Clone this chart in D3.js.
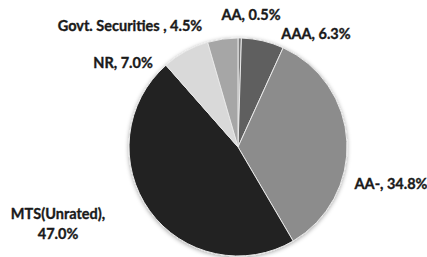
<!DOCTYPE html>
<html>
<head>
<meta charset="utf-8">
<script src="https://cdn.jsdelivr.net/npm/d3@7"></script>
<style>
  html, body { margin: 0; padding: 0; background: #ffffff; }
  svg { display: block; }
  text { font-family: Lato, "Open Sans", sans-serif; font-weight: 700; fill: #1a1a1a; stroke: #1a1a1a; stroke-width: 0.35px; }
</style>
</head>
<body>
<svg id="chart" width="427" height="257"></svg>
<script>
const categories = ["AA", "AAA", "AA-", "MTS(Unrated)", "NR", "Govt. Securities "];
const values = [0.5, 6.3, 34.8, 47.0, 7.0, 4.5];
const valueLabels = ["0.5%", "6.3%", "34.8%", "47.0%", "7.0%", "4.5%"];
const colors = ["#7a7a7a", "#5f5f5f", "#8c8c8c", "#222222", "#d9d9d9", "#a6a6a6"];

// label layout (centre of each label, in pixels)
const labelX = [251, 316, 391, 58, 123, 130];
const labelY = [14, 33, 183, 213, 62, 25];

const W = 427, H = 257;
const cx = 238, cy = 147, R = 109;
const svg = d3.select("#chart");

const defs = svg.append("defs");
const f = defs.append("filter").attr("id", "shadow")
  .attr("x", "-20%").attr("y", "-20%").attr("width", "140%").attr("height", "140%");
f.append("feDropShadow").attr("dx", 0).attr("dy", 1).attr("stdDeviation", 2)
  .attr("flood-color", "#000").attr("flood-opacity", 0.35);

const pie = d3.pie().sort(null).value(d => d)(values);
const arc = d3.arc().innerRadius(0).outerRadius(R);

const g = svg.append("g").attr("transform", `translate(${cx},${cy})`);
g.append("g").attr("filter", "url(#shadow)")
  .selectAll("path").data(pie).join("path")
  .attr("d", arc)
  .attr("fill", (d, i) => colors[i])
  .attr("stroke", "#e8e8e8")
  .attr("stroke-width", 1)
  .attr("stroke-linejoin", "round");

const labels = svg.append("g").attr("font-size", 14.5);
categories.forEach((c, i) => {
  const t = labels.append("text")
    .attr("text-anchor", "middle")
    .attr("dominant-baseline", "central");
  if (i === 3) {
    t.append("tspan").attr("x", labelX[i]).attr("y", labelY[i]).text(c + ",");
    t.append("tspan").attr("x", labelX[i]).attr("y", labelY[i] + 20).text(valueLabels[i]);
  } else {
    t.attr("x", labelX[i]).attr("y", labelY[i]).text(c + ", " + valueLabels[i]);
  }
});
</script>
</body>
</html>
